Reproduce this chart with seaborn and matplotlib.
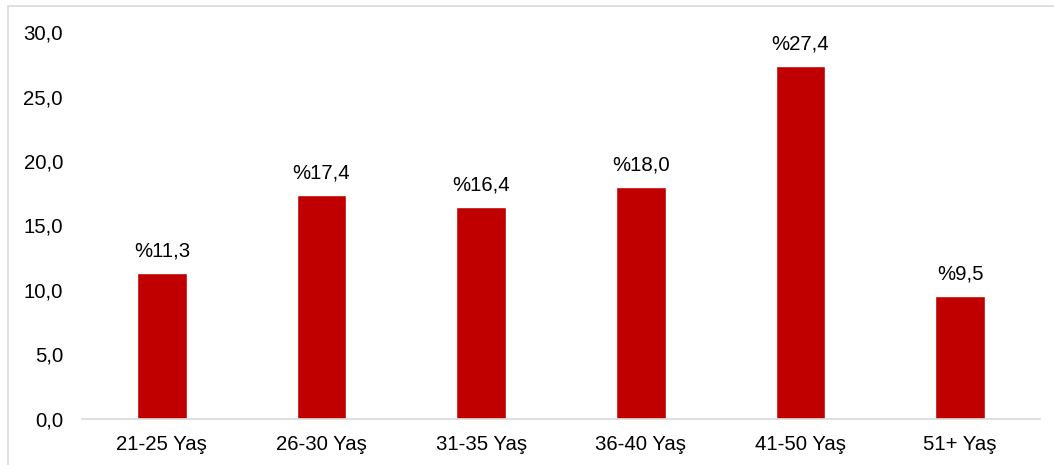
import matplotlib
matplotlib.use("Agg")
import matplotlib.pyplot as plt
import seaborn as sns
import pandas as pd
from matplotlib.patches import Rectangle

categories = ["21-25 Yaş", "26-30 Yaş", "31-35 Yaş", "36-40 Yaş", "41-50 Yaş", "51+ Yaş"]
values = [11.3, 17.4, 16.4, 18.0, 27.4, 9.5]
yticks = [0, 5, 10, 15, 20, 25, 30]

sns.set_style("white")
plt.rcParams["font.family"] = ["Liberation Sans", "DejaVu Sans"]

df = pd.DataFrame({"cat": categories, "val": values})

fig = plt.figure(figsize=(10.54, 4.65), dpi=100)
ax = fig.add_axes([82/1054, 1-418.5/465, (1040-82)/1054, (418.5-32.3)/465])

sns.barplot(data=df, x="cat", y="val", color="#C00000", width=0.313, saturation=1, ax=ax)

ax.set_ylim(0, 30)
ax.set_xlim(-0.5, len(categories) - 0.5)
ax.set_yticks(yticks)
ax.set_yticklabels([f"{t:.1f}".replace(".", ",") for t in yticks])
ax.set_xlabel("")
ax.set_ylabel("")
ax.tick_params(axis="y", length=0, pad=13.7, labelsize=14.7, colors="#000000")
ax.tick_params(axis="x", length=0, pad=12, labelsize=14.7, colors="#000000")

for s in ["top", "right", "left"]:
    ax.spines[s].set_visible(False)
ax.spines["bottom"].set_color("#d9d9d9")
ax.spines["bottom"].set_linewidth(1.2)

labels = ["%" + f"{v:.1f}".replace(".", ",") for v in values]
ax.bar_label(ax.containers[0], labels=labels, padding=9, fontsize=14.7, color="#000000")

# outer chart border (light gray)
fig.patches.append(Rectangle((8/1054, -0.1), 1.2, 1 - 6/465 + 0.1, transform=fig.transFigure,
                             fill=False, edgecolor="#d9d9d9", linewidth=1.2))

fig.savefig("out.png", dpi=100)
